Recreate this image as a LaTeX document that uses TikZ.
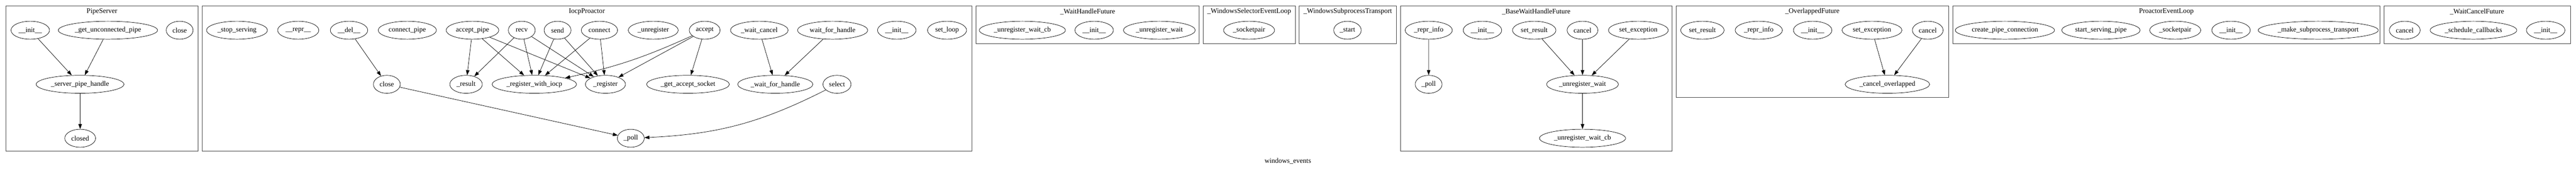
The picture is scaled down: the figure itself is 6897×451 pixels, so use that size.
\documentclass[tikz,border=0pt]{standalone}
\usepackage{fontspec}
\setmainfont{Liberation Serif}
\usetikzlibrary{arrows.meta, shapes.geometric}

\begin{document}
\begin{tikzpicture}[x=0.75pt, y=-0.75pt,
  every node/.style={font=\fontsize{14pt}{16pt}\selectfont},
  mbox/.style={ellipse, draw, line width=0.75pt, minimum width=54pt, minimum height=36pt, inner xsep=4pt, inner ysep=1pt},
  gbox/.style={draw=black!75, line width=1pt},
  call/.style={-{Triangle[length=10pt, width=7pt]}, line width=0.75pt},
]
\useasboundingbox (0,0) rectangle (6897,451);

% PipeServer
\draw[gbox] (15.3,15.7) rectangle (530.8,404);
\node (pstitle) at (273,30.7) {PipeServer};
\node[mbox] (psinit) at (81,80.7) {\_\_init\_\_};
\node[mbox] (psgetpipe) at (289,80.7) {\_get\_unconnected\_pipe};
\node[mbox] (psclose) at (481,80.7) {close};
\node[mbox] (pshandle) at (214.3,225) {\_server\_pipe\_handle};
\node[mbox] (psclosed) at (214.7,369) {closed};

% IocpProactor
\draw[gbox] (540.8,15.7) rectangle (2602.7,404);
\node (iptitle) at (1571.2,30.7) {IocpProactor};
\node[mbox] (ipstop) at (634.5,80.7) {\_stop\_serving};
\node[mbox] (iprepr) at (798.5,80.7) {\_\_repr\_\_};
\node[mbox] (ipdel) at (934.5,80.7) {\_\_del\_\_};
\node[mbox] (ipconnpipe) at (1090.5,80.7) {connect\_pipe};
\node[mbox] (ipacceptpipe) at (1265,80.7) {accept\_pipe};
\node[mbox] (iprecv) at (1397,80.7) {recv};
\node[mbox] (ipsend) at (1492.8,80.7) {send};
\node[mbox] (ipconnect) at (1604.9,80.7) {connect};
\node[mbox] (ipunreg) at (1749,80.7) {\_unregister};
\node[mbox] (ipaccept) at (1886.7,80.7) {accept};
\node[mbox] (ipwaitcancel) at (2032.9,80.7) {\_wait\_cancel};
\node[mbox] (ipwaitfor) at (2229.2,80.7) {wait\_for\_handle};
\node[mbox] (ipinit) at (2401,80.7) {\_\_init\_\_};
\node[mbox] (ipsetloop) at (2535.6,80.7) {set\_loop};
\node[mbox] (ipclose) at (1035.7,225) {close};
\node[mbox] (ipresult) at (1247.8,225) {\_result};
\node[mbox] (ipregiocp) at (1430.6,225) {\_register\_with\_iocp};
\node[mbox] (ipreg) at (1621,225) {\_register};
\node[mbox] (ipgetsock) at (1842,225) {\_get\_accept\_socket};
\node[mbox] (ipwaithandle) at (2075.7,225) {\_wait\_for\_handle};
\node[mbox] (ipselect) at (2241,225) {select};
\node[mbox] (ippoll) at (1688.9,369) {\_poll};

% _WaitHandleFuture
\draw[gbox] (2613.4,15.7) rectangle (3210.8,116);
\node (whtitle) at (2912,30.7) {\_WaitHandleFuture};
\node[mbox] (whunregcb) at (2737.3,80.7) {\_unregister\_wait\_cb};
\node[mbox] (whinit) at (2929.5,80.7) {\_\_init\_\_};
\node[mbox] (whunreg) at (3104,80.7) {\_unregister\_wait};

% _WindowsSelectorEventLoop
\draw[gbox] (3221.1,15.7) rectangle (3467.9,116);
\node (wsetitle) at (3344.5,30.7) {\_WindowsSelectorEventLoop};
\node[mbox] (wsesock) at (3344.2,80.7) {\_socketpair};

% _WindowsSubprocessTransport
\draw[gbox] (3478.3,15.7) rectangle (3738.6,116);
\node (wsttitle) at (3608.5,30.7) {\_WindowsSubprocessTransport};
\node[mbox] (wststart) at (3607.7,80.7) {\_start};

% _BaseWaitHandleFuture
\draw[gbox] (3749.2,15.7) rectangle (4477.2,404);
\node (bwtitle) at (4113,30.7) {\_BaseWaitHandleFuture};
\node[mbox] (bwrepr) at (3825.2,80.7) {\_repr\_info};
\node[mbox] (bwinit) at (3969.1,80.7) {\_\_init\_\_};
\node[mbox] (bwsetres) at (4107.7,80.7) {set\_result};
\node[mbox] (bwcancel) at (4237,80.7) {cancel};
\node[mbox] (bwsetexc) at (4386.5,80.7) {set\_exception};
\node[mbox] (bwpoll) at (3825,225) {\_poll};
\node[mbox] (bwunreg) at (4237,225) {\_unregister\_wait};
\node[mbox] (bwunregcb) at (4237,369) {\_unregister\_wait\_cb};

% _OverlappedFuture
\draw[gbox] (4487.9,15.7) rectangle (5217.4,259.3);
\node (oftitle) at (4852.4,30.7) {\_OverlappedFuture};
\node[mbox] (ofsetres) at (4558,80.7) {set\_result};
\node[mbox] (ofrepr) at (4708.9,80.7) {\_repr\_info};
\node[mbox] (ofinit) at (4853.2,80.7) {\_\_init\_\_};
\node[mbox] (ofsetexc) at (5012,80.7) {set\_exception};
\node[mbox] (ofcancel) at (5161.3,80.7) {cancel};
\node[mbox] (ofcancelov) at (5053.3,225) {\_cancel\_overlapped};

% ProactorEventLoop
\draw[gbox] (5228.1,15.7) rectangle (6372,116);
\node (peltitle) at (5800,30.7) {ProactorEventLoop};
\node[mbox] (pelcreate) at (5367.9,80.7) {create\_pipe\_connection};
\node[mbox] (pelstart) at (5625,80.7) {start\_serving\_pipe};
\node[mbox] (pelsock) at (5823.9,80.7) {\_socketpair};
\node[mbox] (pelinit) at (5973.3,80.7) {\_\_init\_\_};
\node[mbox] (pelmake) at (6206.8,80.7) {\_make\_subprocess\_transport};

% _WaitCancelFuture
\draw[gbox] (6382.6,15.7) rectangle (6881.9,116);
\node (wctitle) at (6631.8,30.7) {\_WaitCancelFuture};
\node[mbox] (wccancel) at (6438.4,80.7) {cancel};
\node[mbox] (wcsched) at (6622.4,80.7) {\_schedule\_callbacks};
\node[mbox] (wcinit) at (6815.8,80.7) {\_\_init\_\_};

% module name
\node (caption) at (3448,430) {windows\_events};

% Calls
\draw[call] (psinit) -- (pshandle);
\draw[call] (psgetpipe) -- (pshandle);
\draw[call] (pshandle) -- (psclosed);
\draw[call] (ipdel) -- (ipclose);
\draw[call] (ipclose) -- (ippoll);
\draw[call] (ipacceptpipe) -- (ipresult);
\draw[call] (ipacceptpipe) -- (ipregiocp);
\draw[call] (ipacceptpipe) -- (ipreg);
\draw[call] (iprecv) -- (ipresult);
\draw[call] (iprecv) -- (ipregiocp);
\draw[call] (iprecv) -- (ipreg);
\draw[call] (ipsend) -- (ipregiocp);
\draw[call] (ipsend) -- (ipreg);
\draw[call] (ipconnect) -- (ipregiocp);
\draw[call] (ipconnect) -- (ipreg);
\draw[call] (ipaccept) to[bend left=6] (ipregiocp);
\draw[call] (ipaccept) -- (ipreg);
\draw[call] (ipaccept) -- (ipgetsock);
\draw[call] (ipwaitcancel) -- (ipwaithandle);
\draw[call] (ipwaitfor) -- (ipwaithandle);
\draw[call] (ipselect) to[bend left=12] (ippoll);
\draw[call] (bwrepr) -- (bwpoll);
\draw[call] (bwsetres) -- (bwunreg);
\draw[call] (bwcancel) -- (bwunreg);
\draw[call] (bwsetexc) -- (bwunreg);
\draw[call] (bwunreg) -- (bwunregcb);
\draw[call] (ofsetexc) -- (ofcancelov);
\draw[call] (ofcancel) -- (ofcancelov);

\end{tikzpicture}
\end{document}
